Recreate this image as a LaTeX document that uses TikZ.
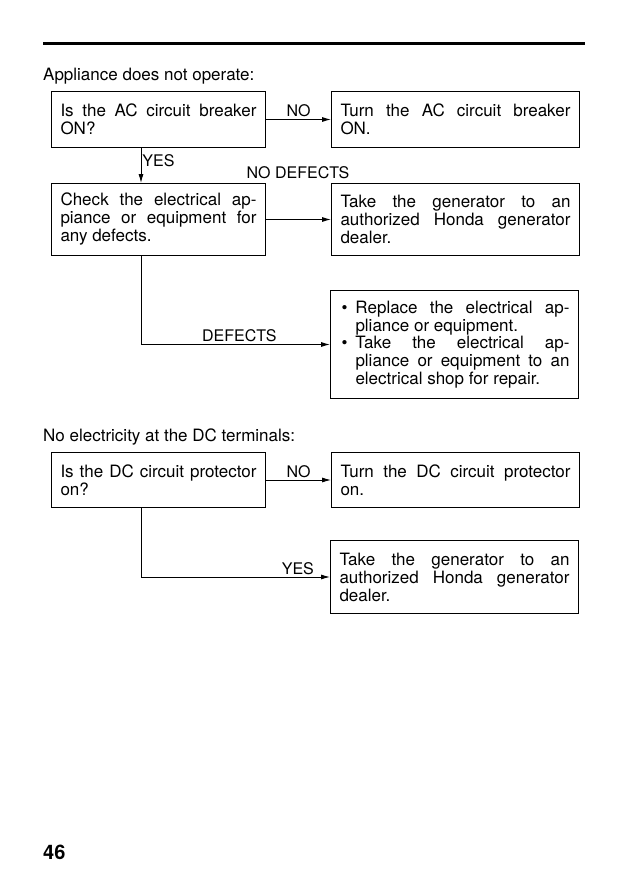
\documentclass[tikz,border=0pt]{standalone}
\usepackage{fontspec}
\setmainfont{TeX Gyre Heros}
\usetikzlibrary{arrows.meta,positioning}
\newcommand{\vineta}[1]{\noindent\makebox[16pt][l]{\hspace{2pt}\textbullet}%
  \parbox[t]{214pt}{#1}\par}
\tikzset{
  caja/.style       = {rectangle, draw=black, line width=1pt, align=justify,
                       font=\fontsize{17}{18}\selectfont,
                       inner xsep=9pt, inner ysep=0pt},
  pregunta/.style   = {caja, text width=196pt},
  accion/.style     = {caja, text width=230pt},
  flecha/.style     = {-{Latex[length=9pt,width=5pt]}, line width=0.9pt},
  rotulo/.style     = {font=\fontsize{16}{18}\selectfont, inner sep=2pt},
  encabezado/.style = {font=\fontsize{17}{18}\selectfont, inner sep=0pt,
                       anchor=base west},
}

\begin{document}
\begin{tikzpicture}[x=1pt, y=-1pt]
    \useasboundingbox (0,0) rectangle (631,880);
    \draw[line width=3pt] (43,44) -- (585,44);
    \coordinate (eje) at (141,0);

    % --- corriente alterna
    \node[encabezado] (tit1) at (43,81) {Appliance does not operate:};
    \node[pregunta, minimum height=56pt, anchor=north west] (ac) at (51,91)
      {Is the AC circuit breaker\linebreak ON?};
    \node[accion, minimum height=56pt, right=65pt of ac] (acon)
      {Turn the AC circuit breaker\linebreak ON.};
    \node[pregunta, minimum height=72pt, anchor=north west] (revisar) at (51,183)
      {Check the electrical ap-\linebreak piance or equipment for\linebreak any defects.};
    \node[accion, minimum height=72pt, right=65pt of revisar] (taller1)
      {Take the generator to an\linebreak authorized Honda generator\linebreak dealer.};
    \node[accion, minimum height=108pt, anchor=north west] (cambiar) at (330,290)
      {\vineta{Replace the electrical ap-\linebreak pliance or equipment.}
       \vineta{Take the electrical ap-\linebreak pliance or equipment to an\linebreak
       electrical shop for repair.}};
    \node[rotulo] (nodef) at (298,173) {NO DEFECTS};

    % --- corriente continua
    \node[encabezado] (tit2) at (43,441) {No electricity at the DC terminals:};
    \node[pregunta, minimum height=55pt, anchor=north west] (dc) at (51,452)
      {Is the DC circuit protector\linebreak on?};
    \node[accion, minimum height=55pt, right=65pt of dc] (dcon)
      {Turn the DC circuit protector\linebreak on.};
    \node[accion, minimum height=73pt, anchor=north west] (taller2) at (330,540)
      {Take the generator to an\linebreak authorized Honda generator\linebreak dealer.};

    \node[font=\fontsize{20}{20}\selectfont\bfseries, anchor=base west,
          inner sep=0pt] (pagina) at (43,859) {46};

    % --- flechas
    \draw[flecha] (ac) -- node[rotulo, above] (no1) {NO} (acon);
    \draw[flecha] (ac.south -| eje) -- node[rotulo, right, pos=.35, inner sep=1pt] (si1) {YES}
      (revisar.north -| eje);
    \draw[flecha] (revisar) -- (taller1);
    \draw[flecha] (revisar.south -| eje) |- node[rotulo, above, pos=.76] (def) {DEFECTS}
      (cambiar.west);
    \draw[flecha] (dc) -- node[rotulo, above] (no2) {NO} (dcon);
    \draw[flecha] (dc.south -| eje) |- node[rotulo, above, pos=.915] (si2) {YES}
      (taller2.west);
\end{tikzpicture}
\end{document}
